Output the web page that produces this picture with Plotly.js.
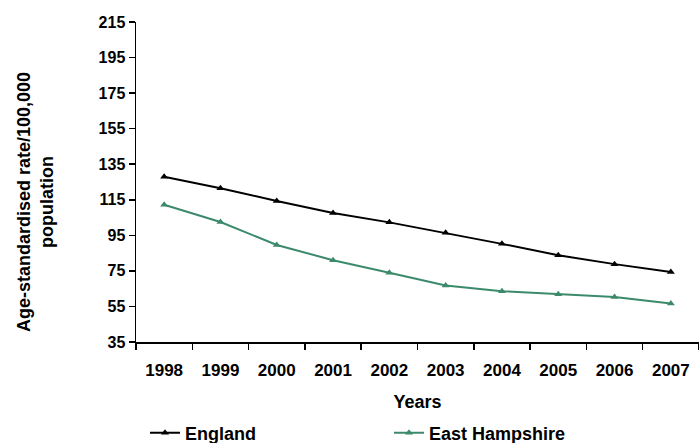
<!DOCTYPE html>
<html>
<head>
<meta charset="utf-8">
<script src="https://cdn.plot.ly/plotly-3.0.1.min.js"></script>
<style>html,body{margin:0;padding:0;background:#fff;}#chart{width:699px;height:443px;}</style>
</head>
<body>
<div id="chart"></div>
<script>
var years = ['1998','1999','2000','2001','2002','2003','2004','2005','2006','2007'];
var england = [128.0, 121.5, 114.3, 107.6, 102.3, 96.4, 90.2, 83.8, 78.8, 74.4];
var eastHampshire = [112.2, 102.5, 89.6, 81.0, 73.9, 66.8, 63.6, 61.8, 60.3, 56.7];
var yTicks = [35, 55, 75, 95, 115, 135, 155, 175, 195, 215];

var FONT = 'Liberation Sans, Arial, sans-serif';
var green = '#3c8a6c';

var traces = [
  {x: years, y: england, name: 'England', type: 'scatter', mode: 'lines+markers',
   line: {color: '#000000', width: 2}, marker: {symbol: 'triangle-up', size: 7, color: '#000000'},
   legend: 'legend'},
  {x: years, y: eastHampshire, name: 'East Hampshire', type: 'scatter', mode: 'lines+markers',
   line: {color: green, width: 2}, marker: {symbol: 'triangle-up', size: 7, color: green},
   legend: 'legend2'}
];

var layout = {
  width: 699, height: 443,
  margin: {l: 136, r: 0, t: 22, b: 101},
  paper_bgcolor: '#ffffff', plot_bgcolor: '#ffffff',
  font: {family: FONT, color: '#000000'},
  showlegend: true,
  xaxis: {
    type: 'category', range: [-0.5, 9.5], tickson: 'boundaries',
    ticks: 'outside', ticklen: 6, tickcolor: '#000', tickwidth: 1.5,
    showline: true, linecolor: '#000', linewidth: 1.5, showgrid: false, zeroline: false,
    ticklabelstandoff: 12,
    tickfont: {family: FONT, size: 17, color: '#000', weight: 'bold'},
    title: {text: 'Years', font: {family: FONT, size: 18, color: '#000', weight: 'bold'}, standoff: 16}
  },
  yaxis: {
    range: [35, 215], tickvals: yTicks, ticktext: yTicks.map(String),
    ticks: 'outside', ticklen: 6, tickcolor: '#000', tickwidth: 1.5,
    showline: true, linecolor: '#000', linewidth: 1.5, showgrid: false, zeroline: false,
    tickfont: {family: FONT, size: 16, color: '#000', weight: 'bold'}
  },
  annotations: [{
    text: 'Age-standardised rate/100,000<br>population',
    xref: 'paper', yref: 'paper', x: (35 - 136) / 563, y: (342 - 202) / 320,
    xanchor: 'center', yanchor: 'middle', textangle: -90, showarrow: false,
    font: {family: FONT, size: 18, color: '#000', weight: 'bold'}
  }],
  legend: {
    xref: 'container', yref: 'container', x: 145 / 699, y: (443 - 433) / 443,
    xanchor: 'left', yanchor: 'middle', orientation: 'h', bgcolor: 'rgba(0,0,0,0)',
    font: {family: FONT, size: 18, color: '#000', weight: 'bold'}, borderwidth: 0
  },
  legend2: {
    xref: 'container', yref: 'container', x: 389 / 699, y: (443 - 433) / 443,
    xanchor: 'left', yanchor: 'middle', orientation: 'h', bgcolor: 'rgba(0,0,0,0)',
    font: {family: FONT, size: 18, color: '#000', weight: 'bold'}, borderwidth: 0
  }
};

Plotly.newPlot('chart', traces, layout, {displayModeBar: false, staticPlot: true});
</script>
</body>
</html>
